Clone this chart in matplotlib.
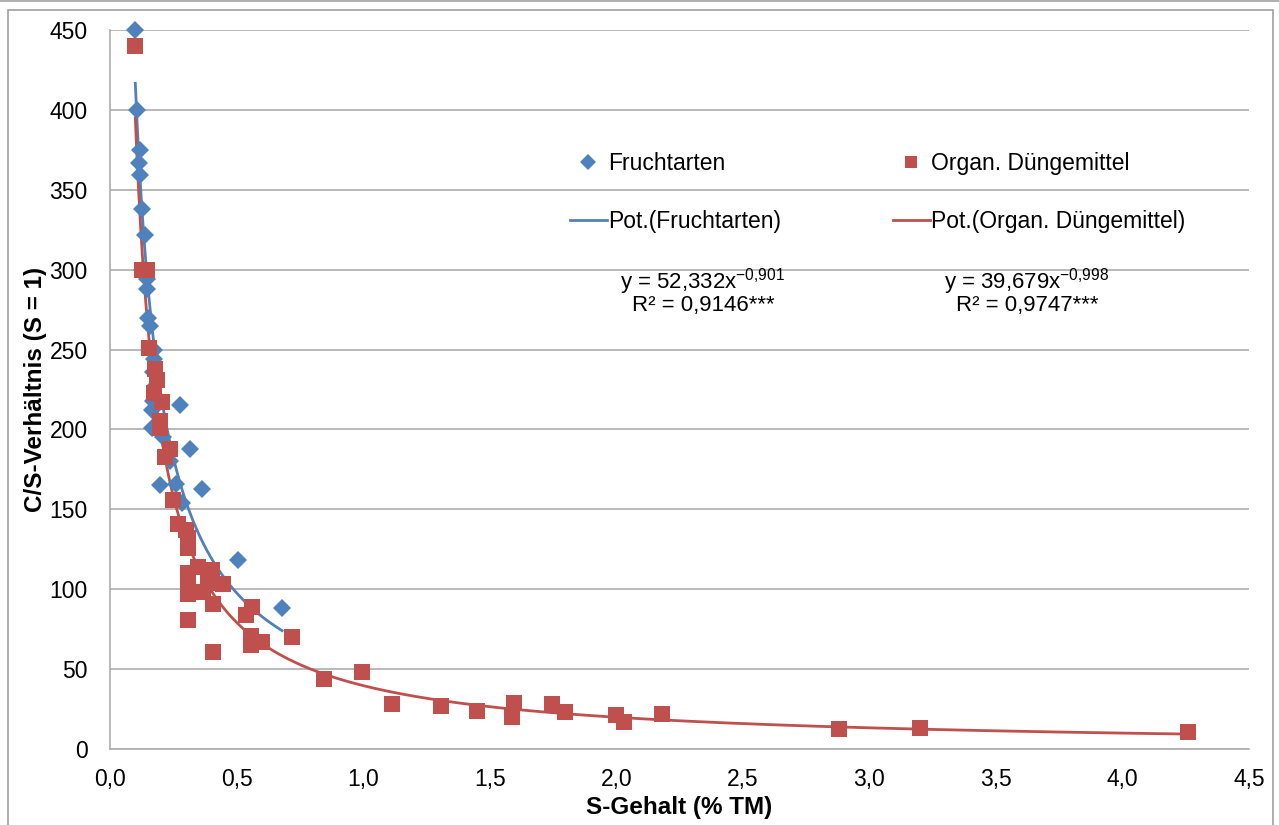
import matplotlib
matplotlib.use("Agg")
import matplotlib.pyplot as plt
from matplotlib.patches import Rectangle
from matplotlib.lines import Line2D
from matplotlib.ticker import FuncFormatter, MultipleLocator
import numpy as np

plt.rcParams['font.family'] = ['Liberation Sans', 'DejaVu Sans']
plt.rcParams['mathtext.fontset'] = 'custom'
plt.rcParams['mathtext.rm'] = 'Liberation Sans'

# S-Gehalt (% TM) und C/S-Verhältnis, Fruchtarten
frucht_s = [0.100, 0.107, 0.118, 0.116, 0.118, 0.127, 0.137, 0.128, 0.140, 0.146,
            0.147, 0.152, 0.160, 0.172, 0.174, 0.168, 0.180, 0.166, 0.170, 0.166,
            0.277, 0.210, 0.316, 0.237, 0.198, 0.262, 0.365, 0.284, 0.506, 0.680]
frucht_cs = [450, 400, 375, 367, 359, 338, 322, 300, 300, 294,
             288, 270, 265, 250, 244, 236, 228, 212, 218, 201,
             215, 195, 188, 180, 165, 166, 163, 154, 118, 88]

# Organische Düngemittel
duenger_s = [0.100, 0.126, 0.148, 0.155, 0.176, 0.185, 0.172, 0.205, 0.198, 0.198,
             0.237, 0.217, 0.249, 0.269, 0.302, 0.308, 0.308, 0.348, 0.308, 0.403,
             0.387, 0.447, 0.308, 0.308, 0.367, 0.407, 0.561, 0.537, 0.308, 0.557,
             0.600, 0.557, 0.719, 0.407, 0.846, 0.996, 1.114, 1.308, 1.450, 1.597,
             1.588, 1.747, 1.798, 2.000, 2.030, 2.180, 2.880, 3.200, 4.260]
duenger_cs = [440, 300, 300, 251, 238, 231, 223, 217, 205, 201,
              188, 183, 156, 141, 137, 132, 126, 114, 110, 112,
              104, 103, 104, 97, 98, 91, 89, 84, 81, 71,
              67, 65, 70, 61, 44, 48, 28, 27, 24, 29,
              20, 28, 23, 21, 17, 22, 12.5, 13, 10.6]

# Potenzfunktionen y = a * x^b
frucht_fit = (52.332, -0.901)
duenger_fit = (39.679, -0.998)

blue = '#4F81BD'
red = '#C0504D'
grid_col = '#ADADAD'

fig = plt.figure(figsize=(12.79, 8.25), dpi=100)
W, H = 1279, 825

# chart frame
fig.add_artist(Line2D([0, 1], [1 - 0.5 / H, 1 - 0.5 / H], color='#A0A0A0', lw=1.2,
                      transform=fig.transFigure))
fig.add_artist(Rectangle((7.5 / W, -0.05), (1273 - 7.5) / W, 1.05 - 10 / H,
                         transform=fig.transFigure, fill=False,
                         edgecolor='#A0A0A0', lw=1.2))

ax = fig.add_axes([110 / W, 1 - 749 / H, (1249 - 110) / W, (749 - 30) / H])

ax.set_xlim(0, 4.5)
ax.set_ylim(0, 450)
ax.xaxis.set_major_locator(MultipleLocator(0.5))
ax.yaxis.set_major_locator(MultipleLocator(50))
ax.xaxis.set_major_formatter(FuncFormatter(lambda v, p: f"{v:.1f}".replace('.', ',')))
ax.yaxis.set_major_formatter(FuncFormatter(lambda v, p: f"{v:.0f}"))

ax.grid(axis='y', color=grid_col, lw=1.2)
ax.set_axisbelow(True)
for side in ['top', 'right']:
    ax.spines[side].set_visible(False)
for side in ['left', 'bottom']:
    ax.spines[side].set_color(grid_col)
    ax.spines[side].set_linewidth(1.2)
ax.tick_params(length=0, labelsize=16.5, colors='black')
ax.tick_params(axis='y', pad=16)
ax.tick_params(axis='x', pad=14)

# trend lines
xf = np.linspace(min(frucht_s), max(frucht_s), 300)
xd = np.linspace(min(duenger_s), max(duenger_s), 600)
ax.plot(xf, frucht_fit[0] * xf ** frucht_fit[1], color=blue, lw=2, zorder=2)
ax.plot(xd, duenger_fit[0] * xd ** duenger_fit[1], color=red, lw=2, zorder=2)

ax.plot(frucht_s, frucht_cs, 'D', color=blue, ms=9.5, mew=0, clip_on=False, zorder=3)
ax.plot(duenger_s, duenger_cs, 's', color=red, ms=11, mew=0, clip_on=False, zorder=4)

ax.set_xlabel('S-Gehalt (% TM)', fontsize=17.5, fontweight='bold', labelpad=3)
ax.set_ylabel('C/S-Verhältnis (S = 1)', fontsize=17.5, fontweight='bold', labelpad=2)

handles = [
    Line2D([], [], ls='none', marker='D', color=blue, ms=8, mew=0),
    Line2D([], [], color=blue, lw=2),
    Line2D([], [], ls='none', marker='s', color=red, ms=8, mew=0),
    Line2D([], [], color=red, lw=2),
]
labels = ['Fruchtarten', 'Pot.(Fruchtarten)', 'Organ. Düngemittel', 'Pot.(Organ. Düngemittel)']
ax.legend(handles, labels, ncol=2, frameon=False, fontsize=16.5,
          loc='upper left', bbox_to_anchor=(570 / W, 1 - 152 / H),
          bbox_transform=fig.transFigure, borderpad=0, borderaxespad=0,
          handlelength=1.6, handletextpad=0.05, columnspacing=4.9,
          labelspacing=1.54)

# Gleichungen der Trendlinien
for txt, x in [('y = 52,332x$^{\\mathregular{-0{,}901}}$\nR² = 0,9146***', 703),
               ('y = 39,679x$^{\\mathregular{-0{,}998}}$\nR² = 0,9747***', 1027)]:
    fig.text(x / W, 1 - 291 / H, txt, fontsize=16, ha='center', va='center',
             multialignment='center', linespacing=0.85)

fig.savefig('out.png', dpi=100)
